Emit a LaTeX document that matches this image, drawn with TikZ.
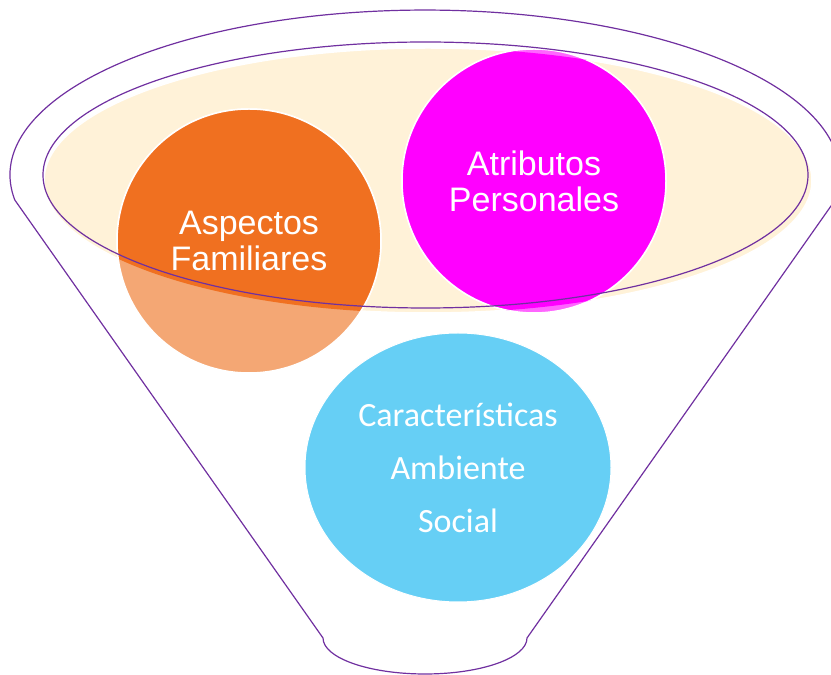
\documentclass[tikz,border=0pt]{standalone}
\usetikzlibrary{shapes.geometric}
\usepackage{fontspec}
\setmainfont{Liberation Sans}
\newfontfamily\carlito{Carlito}
\definecolor{funnel}{HTML}{7030A0}
\definecolor{cream}{HTML}{FFF2D8}
\definecolor{orangeD}{HTML}{F07020}
\definecolor{orangeL}{HTML}{F4A774}
\definecolor{magD}{HTML}{FF00FF}
\definecolor{magL}{HTML}{FF66FF}
\definecolor{skyb}{HTML}{66CFF5}
\begin{document}
\begin{tikzpicture}[x=1pt,y=1pt,
  outline/.style={draw=funnel, line width=1.2pt},
  disc/.style={circle, minimum size=264pt, inner sep=0pt, draw=white, line width=1.5pt},
  lbl/.style={text=white, align=center, font=\fontsize{34}{36}\selectfont},
  lblc/.style={text=white, align=center, font=\carlito\fontsize{34}{53}\selectfont}]
\useasboundingbox (0,0) rectangle (831,675);
\clip (0,0) rectangle (831,675);
% cream filling of the top
\fill[cream, draw=white, line width=1.5pt] (428,494.5) ellipse[x radius=384, y radius=132.5];
% circles (light part, outside the top)
\node[disc, fill=orangeL] (af) at (249,434) {};
\node[disc, fill=magL] (ap) at (534,494) {};
% dark part, inside the top
\begin{scope}
  \clip (428,494.5) ellipse[x radius=384, y radius=132.5];
  \fill[orangeD, draw=white, line width=1.5pt] (af.center) circle[radius=132];
  \fill[magD, draw=white, line width=1.5pt] (ap.center) circle[radius=132];
\end{scope}
% inner rim
\draw[outline] (425.5,500) ellipse[x radius=382.5, y radius=133];
% funnel body
\draw[outline] (14.8,475) arc[start angle=188.7, end angle=-8.7, x radius=415, y radius=165]
  -- (527,37) arc[start angle=0, end angle=-180, x radius=102, y radius=36] -- cycle;
% lower ellipse
\node[ellipse, minimum width=306pt, minimum height=269pt, inner sep=0pt, fill=skyb, draw=white, line width=1pt] (cs) at (458,207.5) {};
% labels
\node[lbl] (afl) at (af.center) {Aspectos\\Familiares};
\node[lbl] (apl) at (ap.center) {Atributos\\Personales};
\node[lblc] (csl) at (cs.center) {Características\\Ambiente\\Social};
\end{tikzpicture}
\end{document}
